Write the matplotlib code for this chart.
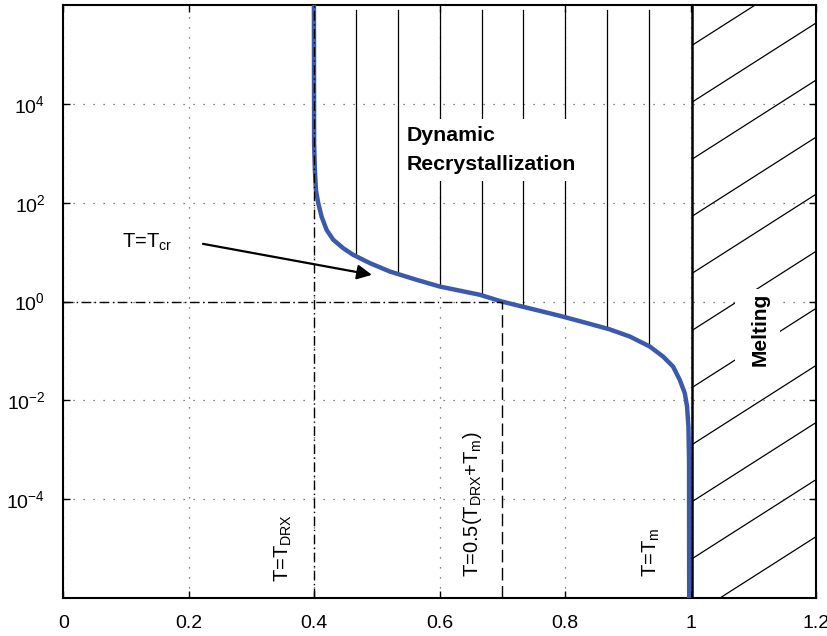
import numpy as np
import matplotlib
matplotlib.use("Agg")
import matplotlib.pyplot as plt
from matplotlib.patches import Rectangle

plt.rcParams['font.family'] = ['Liberation Sans', 'DejaVu Sans']
plt.rcParams['mathtext.fontset'] = 'custom'
plt.rcParams['mathtext.rm'] = 'Liberation Sans'

# ---- data ----
curve_x = [0.3995, 0.3998, 0.4010, 0.4027, 0.4064, 0.4118, 0.4198, 0.4303, 0.4462,
           0.4622, 0.4888, 0.5206, 0.5632, 0.6003, 0.6640, 0.6990, 0.7916, 0.8314,
           0.8701, 0.9031, 0.9350, 0.9562, 0.9721, 0.9828, 0.9908, 0.9944, 0.9966,
           0.9976, 0.9978]
curve_y = [1e6, 1.6e3, 4.7e2, 1.8e2, 98, 52, 28, 17.8, 12.0,
           8.8, 5.98, 4.05, 2.75, 2.01, 1.37, 1.0, 0.514, 0.376,
           0.276, 0.196, 0.123, 0.077, 0.0483, 0.026, 0.014, 0.0075, 0.00295,
           0.00063, 1e-6]

T_drx = 0.4
T_half = 0.7
T_m = 1.0
drx_lines_x = [0.4667, 0.5333, 0.6, 0.6667, 0.7333, 0.8, 0.8667, 0.9333]
melt_hatch_left_logy = [5.19, 4.04, 2.885, 1.73, 0.575, -0.58, -1.735, -2.89, -4.045, -5.2, -6.355]
melt_hatch_rise = 1.62  # decades over the melting band

x_ticks = [0, 0.2, 0.4, 0.6, 0.8, 1.0, 1.2]
x_ticklabels = ['0', '0.2', '0.4', '0.6', '0.8', '1', '1.2']
y_ticks = [1e-4, 1e-2, 1e0, 1e2, 1e4]

xlim = (0, 1.2)
ylim = (1e-6, 1e6)

# ---- figure ----
fig = plt.figure(figsize=(8.28, 6.36), dpi=100)
ax = fig.add_axes([0.0765, 0.0597, 0.9090, 0.9324])
ax.set_yscale('log')
ax.set_xlim(*xlim)
ax.set_ylim(*ylim)

ax.set_xticks(x_ticks)
ax.set_xticklabels(x_ticklabels)
ax.set_yticks(y_ticks)
ax.yaxis.set_minor_locator(matplotlib.ticker.NullLocator())
ax.tick_params(axis='both', which='major', direction='in', length=5, width=1,
               top=True, right=True, labelsize=14)
ax.tick_params(axis='x', pad=12)
ax.tick_params(axis='y', pad=13)
for s in ax.spines.values():
    s.set_linewidth(1.5)

ax.grid(True, which='major', color='0.35', linestyle=(0, (1, 7)), linewidth=0.9, zorder=0)
ax.set_axisbelow(True)

# curve
ax.plot(curve_x, curve_y, color='#3C5AAB', linewidth=3.2, zorder=4,
        solid_capstyle='butt', solid_joinstyle='round')

# vertical DRX region lines, from top down to the curve
order = np.argsort(curve_x)
cx = np.array(curve_x)[order]
cly = np.log10(np.array(curve_y))[order]
for xv in drx_lines_x:
    yb = 10 ** np.interp(xv, cx[2:], cly[2:])
    ax.plot([xv, xv], [yb, 8e5], color='black', linewidth=0.9, zorder=2)

# reference lines
ax.plot([T_drx, T_drx], [ylim[0], ylim[1]], color='black', linewidth=1.0,
        linestyle=(0, (7, 2.5, 1, 2.5)), zorder=5)
ax.plot([xlim[0], T_half], [1, 1], color='black', linewidth=1.0,
        linestyle=(0, (7, 2.5, 1, 2.5)), zorder=5)
ax.plot([T_half, T_half], [ylim[0], 1], color='black', linewidth=1.0,
        linestyle=(0, (9, 4)), zorder=5)
ax.plot([T_m + 0.0025, T_m + 0.0025], [ylim[0], ylim[1]], color='black', linewidth=1.8, zorder=6)

# melting hatch
hx = np.array([T_m + 0.003, xlim[1]])
for ly in melt_hatch_left_logy:
    hy = 10 ** (ly + melt_hatch_rise * (hx - hx[0]) / (xlim[1] - T_m))
    ax.plot(hx, hy, color='black', linewidth=0.9, zorder=2)

# white patch behind "Melting"
ax.add_patch(Rectangle((1.0705, 10 ** -1.6), 0.0715, 10 ** 0.26 - 10 ** -1.6,
                       facecolor='white', edgecolor='none', zorder=3))
ax.text(1.1116, 0.267, 'Melting', rotation=90, ha='center', va='center',
        fontsize=15, fontweight='bold', zorder=7)

# DRX label
ax.text(0.5477, 10 ** 3.07, 'Dynamic\nRecrystallization', ha='left', va='center',
        fontsize=15.3, fontweight='bold', linespacing=1.65, zorder=7,
        bbox=dict(facecolor='white', edgecolor='none', pad=5))

# T = T_cr annotation
ax.annotate('', xy=(0.492, 3.47), xytext=(0.2226, 14.7),
            arrowprops=dict(arrowstyle='-|>', color='black', lw=1.6,
                            mutation_scale=22, shrinkA=0, shrinkB=0), zorder=8)
ax.text(0.0935, 15.4, r'T=T$_{\mathregular{cr}}$', ha='left', va='center', fontsize=14.5)

# rotated labels
ax.text(0.350, 10 ** -5.67, r'T=T$_{\mathregular{DRX}}$', rotation=90,
        ha='center', va='bottom', fontsize=14.5, zorder=7)
ax.text(0.653, 10 ** -5.57, r'T=0.5(T$_{\mathregular{DRX}}$+T$_{\mathregular{m}}$)', rotation=90,
        ha='center', va='bottom', fontsize=14.5, zorder=7)
ax.text(0.938, 10 ** -5.57, r'T=T$_{\mathregular{m}}$', rotation=90,
        ha='center', va='bottom', fontsize=14.5, zorder=7)

fig.savefig('out.png', dpi=100)
